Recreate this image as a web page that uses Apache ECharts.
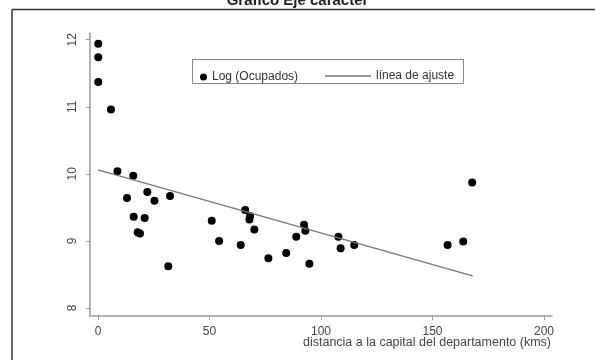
<!DOCTYPE html>
<html>
<head>
<meta charset="utf-8">
<script src="https://cdn.jsdelivr.net/npm/echarts@6/dist/echarts.min.js"></script>
<style>
  html, body { margin: 0; padding: 0; background: #fff; }
  #chart { width: 595px; height: 360px; }
</style>
</head>
<body>
<div id="chart"></div>
<script>
// distancia (kms) y Log (Ocupados)
const distancia = [0.1, 0.1, 0.1, 5.8, 8.7, 15.8, 13.0, 22.1, 25.3, 32.3, 16.0, 20.9, 17.8, 18.8, 31.5,
    51.0, 54.3, 66.0, 68.2, 67.9, 70.1, 64.0, 76.4, 84.4, 88.9, 92.4, 93.0, 94.8,
    107.8, 108.8, 114.9, 156.8, 163.8, 167.8];
const logOcupados = [11.94, 11.74, 11.37, 10.96, 10.04, 9.97, 9.64, 9.73, 9.60, 9.67, 9.36, 9.34, 9.13, 9.11, 8.62,
    9.30, 9.00, 9.46, 9.37, 9.32, 9.17, 8.94, 8.74, 8.82, 9.06, 9.24, 9.15, 8.66,
    9.06, 8.89, 8.94, 8.94, 8.99, 9.87];
// linea de ajuste (extremos)
const ajusteX = [0, 168];
const ajusteY = [10.06, 8.48];

const xTicks = [0, 50, 100, 150, 200];
const yTicks = [8, 9, 10, 11, 12];

const puntos = distancia.map((d, i) => [d, logOcupados[i]]);
const linea = ajusteX.map((d, i) => [d, ajusteY[i]]);

const chart = echarts.init(document.getElementById('chart'));
const font = '"Liberation Sans", Arial, sans-serif';

chart.setOption({
    animation: false,
    title: {
        text: 'Gráfico Eje carácter',
        left: 'center',
        top: -12,
        textStyle: { fontFamily: font, fontSize: 15, fontWeight: 'bold', color: '#222' }
    },
    graphic: [
        // marco del grafico
        { type: 'line', shape: { x1: 12, y1: 9.5, x2: 595, y2: 9.5 }, style: { stroke: '#333', lineWidth: 1.5 } },
        { type: 'line', shape: { x1: 12, y1: 9.5, x2: 12, y2: 360 }, style: { stroke: '#333', lineWidth: 1.5 } },
        // borde de la leyenda
        { type: 'rect', shape: { x: 192.5, y: 59.5, width: 271, height: 24 }, style: { fill: null, stroke: '#888', lineWidth: 1 } }
    ],
    grid: { left: 90, right: 43, top: 33, bottom: 44, outerBoundsMode: 'none' },
    legend: [
        {
            data: ['Log (Ocupados)'],
            left: 195, top: 66,
            icon: 'circle', itemWidth: 7, itemHeight: 7,
            textStyle: { fontFamily: font, fontSize: 12, color: '#333' }
        },
        {
            data: [{ name: 'línea de ajuste', icon: 'rect' }],
            left: 320, top: 65,
            itemWidth: 46, itemHeight: 1.3,
            textStyle: { fontFamily: font, fontSize: 12, color: '#333' }
        }
    ],
    xAxis: {
        type: 'value',
        min: -3.6, max: 203.6,
        name: 'distancia a la capital del departamento (kms)',
        nameLocation: 'middle',
        nameGap: 20,
        nameMoveOverlap: false,
        // desplazar el nombre hacia la derecha (centro en ~427px)
        nameTextStyle: { fontFamily: font, fontSize: 12.5, color: '#444', padding: [0, 0, 0, 212] },
        splitLine: { show: false },
        axisLine: { onZero: false, lineStyle: { color: '#999', width: 1.5 } },
        axisTick: { customValues: xTicks, length: 4, lineStyle: { color: '#999' } },
        axisLabel: { customValues: xTicks, margin: 10, fontFamily: font, fontSize: 12, color: '#444' }
    },
    yAxis: {
        type: 'value',
        min: 7.88, max: 12.1,
        splitLine: { show: false },
        axisLine: { onZero: false, lineStyle: { color: '#999', width: 1.5 } },
        axisTick: { customValues: yTicks, length: 4, lineStyle: { color: '#999' } },
        axisLabel: { customValues: yTicks, rotate: 90, margin: 11, fontFamily: font, fontSize: 12, color: '#444' }
    },
    series: [
        {
            name: 'Log (Ocupados)',
            type: 'scatter',
            symbolSize: 8,
            itemStyle: { color: '#000', opacity: 1 },
            data: puntos
        },
        {
            name: 'línea de ajuste',
            type: 'line',
            symbol: 'none',
            lineStyle: { color: '#777', width: 1.3 },
            itemStyle: { color: '#777' },
            data: linea
        }
    ]
});
</script>
</body>
</html>
